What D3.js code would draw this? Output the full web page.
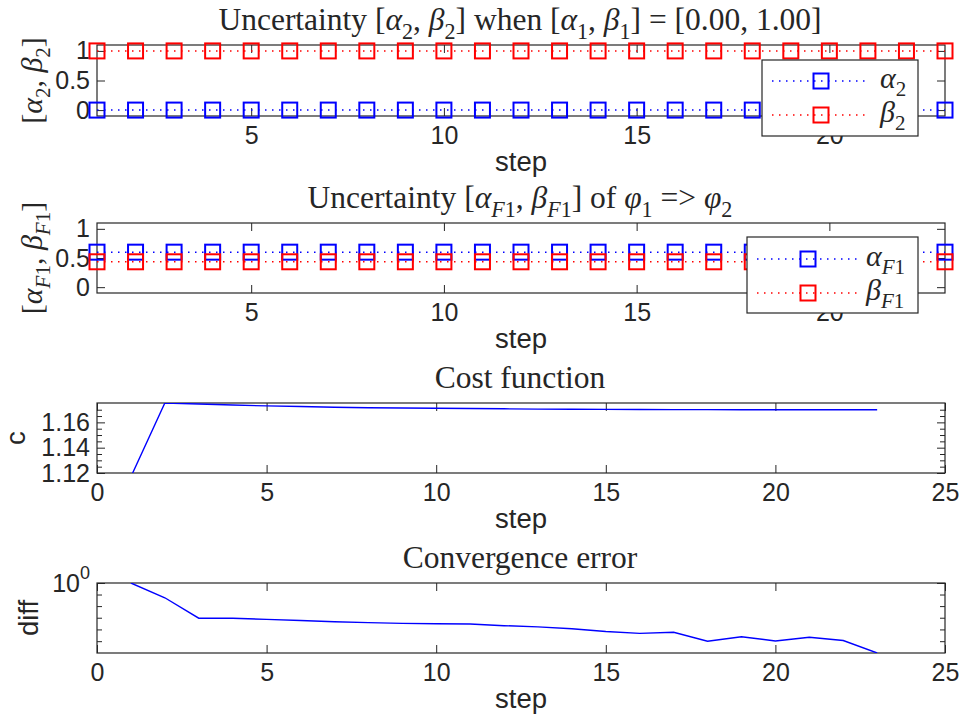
<!DOCTYPE html>
<html>
<head>
<meta charset="utf-8">
<script src="https://cdn.jsdelivr.net/npm/d3@7"></script>
<style>
  body { margin: 0; background: #fff; }
  text { fill: #262626; }
</style>
</head>
<body>
<svg width="963" height="723"></svg>
<script>
// ---- data ----
const steps = [1, 2, 3, 4, 5, 6, 7, 8, 9, 10, 11, 12, 13, 14, 15, 16, 17, 18, 19, 20, 21, 22, 23];
const alpha2 = [0, 0, 0, 0, 0, 0, 0, 0, 0, 0, 0, 0, 0, 0, 0, 0, 0, 0, 0, 0, 0, 0, 0];
const beta2 = [1, 1, 1, 1, 1, 1, 1, 1, 1, 1, 1, 1, 1, 1, 1, 1, 1, 1, 1, 1, 1, 1, 1];
const alphaF1 = [0.6, 0.6, 0.6, 0.6, 0.6, 0.6, 0.6, 0.6, 0.6, 0.6, 0.6, 0.6, 0.6, 0.6, 0.6, 0.6, 0.6, 0.6, 0.6, 0.6, 0.6, 0.6, 0.6];
const betaF1 = [0.435, 0.435, 0.435, 0.435, 0.435, 0.435, 0.435, 0.435, 0.435, 0.435, 0.435, 0.435, 0.435, 0.435, 0.435, 0.435, 0.435, 0.435, 0.435, 0.435, 0.435, 0.435, 0.435];
const cost = [1.117, 1.1753, 1.1745, 1.1737, 1.173, 1.1725, 1.172, 1.1716, 1.1713, 1.1711, 1.1709, 1.1707, 1.1705, 1.1704, 1.1703, 1.1702, 1.1701, 1.1701, 1.17, 1.17, 1.17, 1.17, 1.17];
const diffErr = [1.0, 0.9936, 0.9848, 0.9848, 0.9843, 0.9838, 0.9833, 0.9829, 0.9826, 0.9824, 0.9823, 0.9816, 0.9811, 0.9803, 0.9791, 0.9783, 0.9788, 0.975, 0.9769, 0.9751, 0.9767, 0.9753, 0.97];

const ticksUnc = [0, 0.5, 1];
const ticksStepShort = [5, 10, 15, 20];
const ticksStepFull = [0, 5, 10, 15, 20, 25];
const ticksCost = [1.12, 1.14, 1.16];
const minorCost = [1.125, 1.13, 1.135, 1.145, 1.15, 1.155, 1.165, 1.17];
const ticksDiff = [1];
const minorDiff = [0.975, 0.98, 0.985, 0.99, 0.995];

const svg = d3.select("svg");
const dark = "#262626";
const sans = "'Liberation Sans', Arial, Helvetica, sans-serif";
const serif = "'Liberation Serif', 'Times New Roman', serif";
const left = 97, right = 945;

// text with italic parts and subscripts (poor man's LaTeX)
function rich(textSel, parts, fs) {
  let shifted = false;
  parts.forEach(p => {
    const ts = textSel.append("tspan").text(p.t);
    if (p.it) ts.attr("font-style", "italic");
    if (p.sub) {
      ts.attr("font-size", fs * 0.7);
      if (!shifted) { ts.attr("dy", fs * 0.28); shifted = true; }
    } else if (shifted) {
      ts.attr("dy", -fs * 0.28); shifted = false;
    }
  });
  return textSel;
}

function panel(cfg) {
  const g = svg.append("g");
  const x = cfg.x, y = cfg.y;
  const bottom = y.range()[0], top = y.range()[1];

  // ticks + labels
  g.append("g").attr("transform", `translate(0,${bottom})`)
    .call(d3.axisBottom(x).tickValues(cfg.xticks).tickSize(-8).tickPadding(10).tickFormat(d3.format("d")))
    .call(a => a.select(".domain").remove())
    .call(a => a.selectAll("text").attr("font-size", 25).attr("font-family", sans).attr("fill", dark))
    .call(a => a.selectAll("line").attr("stroke", dark));
  g.append("g").attr("transform", `translate(0,${top})`)
    .call(d3.axisTop(x).tickValues(cfg.xticks).tickSize(-8).tickFormat(""))
    .call(a => a.select(".domain").remove())
    .call(a => a.selectAll("line").attr("stroke", dark));
  const yl = g.append("g").attr("transform", `translate(${left},0)`)
    .call(d3.axisLeft(y).tickValues(cfg.yticks).tickSize(-8).tickPadding(7).tickFormat(cfg.yfmt || (d => d)))
    .call(a => a.select(".domain").remove())
    .call(a => a.selectAll("text").attr("font-size", 25).attr("font-family", sans).attr("fill", dark))
    .call(a => a.selectAll("line").attr("stroke", dark));
  g.append("g").attr("transform", `translate(${right},0)`)
    .call(d3.axisRight(y).tickValues(cfg.yticks).tickSize(-8).tickFormat(""))
    .call(a => a.select(".domain").remove())
    .call(a => a.selectAll("line").attr("stroke", dark));
  if (cfg.yminor) {
    g.append("g").attr("transform", `translate(${left},0)`)
      .call(d3.axisLeft(y).tickValues(cfg.yminor).tickSize(-5).tickFormat(""))
      .call(a => a.select(".domain").remove())
      .call(a => a.selectAll("line").attr("stroke", dark));
    g.append("g").attr("transform", `translate(${right},0)`)
      .call(d3.axisRight(y).tickValues(cfg.yminor).tickSize(-5).tickFormat(""))
      .call(a => a.select(".domain").remove())
      .call(a => a.selectAll("line").attr("stroke", dark));
  }
  if (cfg.after) cfg.after(yl);

  g.append("rect").attr("x", left).attr("y", top)
    .attr("width", right - left).attr("height", bottom - top)
    .attr("fill", "none").attr("stroke", dark).attr("stroke-width", 1.2);

  // title
  rich(g.append("text").attr("x", (left + right) / 2 - 1).attr("y", top - 15)
    .attr("text-anchor", "middle").attr("font-family", serif).attr("font-size", 31.5)
    .attr("fill", "#000"), cfg.title, 31.5);

  // x label
  g.append("text").attr("x", (left + right) / 2).attr("y", bottom + 55)
    .attr("text-anchor", "middle").attr("font-family", sans).attr("font-size", 27.5)
    .text("step");

  // y label
  const yt = g.append("text")
    .attr("transform", `translate(${cfg.ylabX},${(top + bottom) / 2}) rotate(-90)`)
    .attr("text-anchor", "middle").attr("font-size", cfg.ylabSans ? 27.5 : 30)
    .attr("font-family", cfg.ylabSans ? sans : serif);
  if (cfg.ylabSans) yt.text(cfg.ylab); else rich(yt, cfg.ylab, 30);
  return g;
}

function squares(g, x, y, vals, color) {
  const line = d3.line().x((d, i) => x(steps[i])).y(d => y(d));
  g.append("path").datum(vals).attr("d", line).attr("fill", "none")
    .attr("stroke", color).attr("stroke-width", 1.5).attr("stroke-dasharray", "1.5,5.5");
  g.selectAll(null).data(vals).join("rect")
    .attr("x", (d, i) => x(steps[i]) - 7.5).attr("y", d => y(d) - 7.5)
    .attr("width", 15).attr("height", 15)
    .attr("fill", "none").attr("stroke", color).attr("stroke-width", 2);
}

function legend(g, box, entries) {
  g.append("rect").attr("x", box.x).attr("y", box.y).attr("width", box.w).attr("height", box.h)
    .attr("fill", "#fff").attr("stroke", dark).attr("stroke-width", 1.2);
  entries.forEach((e, i) => {
    const cy = box.y + box.rows[i];
    g.append("line").attr("x1", box.x + 10).attr("x2", box.lineEnd).attr("y1", cy).attr("y2", cy)
      .attr("stroke", e.color).attr("stroke-width", 1.5).attr("stroke-dasharray", "1.5,5.5");
    g.append("rect").attr("x", box.mark - 7.5).attr("y", cy - 7.5).attr("width", 15).attr("height", 15)
      .attr("fill", "none").attr("stroke", e.color).attr("stroke-width", 2);
    rich(g.append("text").attr("x", box.textX).attr("y", cy + 7)
      .attr("font-family", serif).attr("font-size", 30).attr("fill", "#000"), e.label, 30);
  });
}

// ---- panel 1 ----
const xA = d3.scaleLinear().domain([1, 23]).range([left, right]);
const y1 = d3.scaleLinear().domain([-0.1, 1.1]).range([116, 45]);
const p1 = panel({
  x: xA, y: y1, xticks: ticksStepShort, yticks: ticksUnc, ylabX: 42,
  title: [{t: "Uncertainty ["}, {t: "α", it: 1}, {t: "2", sub: 1}, {t: ", "}, {t: "β", it: 1}, {t: "2", sub: 1},
          {t: "] when ["}, {t: "α", it: 1}, {t: "1", sub: 1}, {t: ", "}, {t: "β", it: 1}, {t: "1", sub: 1},
          {t: "] = [0.00, 1.00]"}],
  ylab: [{t: "["}, {t: "α", it: 1}, {t: "2", sub: 1}, {t: ", "}, {t: "β", it: 1}, {t: "2", sub: 1}, {t: "]"}]
});
squares(p1, xA, y1, alpha2, "#0000ff");
squares(p1, xA, y1, beta2, "#ff0000");
legend(p1, {x: 762, y: 60, w: 156, h: 76, rows: [21, 55], lineEnd: 870, mark: 821, textX: 880}, [
  {color: "#0000ff", label: [{t: "α", it: 1}, {t: "2", sub: 1}]},
  {color: "#ff0000", label: [{t: "β", it: 1}, {t: "2", sub: 1}]}
]);

// ---- panel 2 ----
const y2 = d3.scaleLinear().domain([-0.1, 1.1]).range([293, 223]);
const p2 = panel({
  x: xA, y: y2, xticks: ticksStepShort, yticks: ticksUnc, ylabX: 42,
  title: [{t: "Uncertainty ["}, {t: "α", it: 1}, {t: "F", sub: 1, it: 1}, {t: "1", sub: 1}, {t: ", "},
          {t: "β", it: 1}, {t: "F", sub: 1, it: 1}, {t: "1", sub: 1}, {t: "] of "},
          {t: "φ", it: 1}, {t: "1", sub: 1}, {t: " => "}, {t: "φ", it: 1}, {t: "2", sub: 1}],
  ylab: [{t: "["}, {t: "α", it: 1}, {t: "F", sub: 1, it: 1}, {t: "1", sub: 1}, {t: ", "},
         {t: "β", it: 1}, {t: "F", sub: 1, it: 1}, {t: "1", sub: 1}, {t: "]"}]
});
squares(p2, xA, y2, alphaF1, "#0000ff");
squares(p2, xA, y2, betaF1, "#ff0000");
legend(p2, {x: 747, y: 237, w: 171, h: 76, rows: [22, 56], lineEnd: 857, mark: 808, textX: 866}, [
  {color: "#0000ff", label: [{t: "α", it: 1}, {t: "F", sub: 1, it: 1}, {t: "1", sub: 1}]},
  {color: "#ff0000", label: [{t: "β", it: 1}, {t: "F", sub: 1, it: 1}, {t: "1", sub: 1}]}
]);

// ---- panel 3 ----
const xB = d3.scaleLinear().domain([0, 25]).range([left, right]);
const y3 = d3.scaleLinear().domain([1.12, 1.1753]).range([473, 403]);
const p3 = panel({
  x: xB, y: y3, xticks: ticksStepFull, yticks: ticksCost, yminor: minorCost,
  yfmt: d3.format(".2f"), ylabX: 25, ylabSans: true, ylab: "c",
  title: [{t: "Cost function"}]
});
svg.append("clipPath").attr("id", "clip3").append("rect")
  .attr("x", left).attr("y", 403).attr("width", right - left).attr("height", 70);
p3.append("path").datum(cost).attr("clip-path", "url(#clip3)")
  .attr("d", d3.line().x((d, i) => xB(steps[i])).y(d => y3(d)))
  .attr("fill", "none").attr("stroke", "#0000ff").attr("stroke-width", 1.4);

// ---- panel 4 ----
const y4 = d3.scaleLog().domain([0.97, 1]).range([653, 583]);
const p4 = panel({
  x: xB, y: y4, xticks: ticksStepFull, yticks: ticksDiff, yminor: minorDiff,
  ylabX: 38, ylabSans: true, ylab: "diff",
  title: [{t: "Convergence error"}],
  after: a => a.selectAll("text").text(null).attr("dy", "0.35em")
    .call(t => t.append("tspan").text("10"))
    .call(t => t.append("tspan").text("0").attr("font-size", 18).attr("dy", "-0.75em"))
});
svg.append("clipPath").attr("id", "clip4").append("rect")
  .attr("x", left).attr("y", 583).attr("width", right - left).attr("height", 70);
p4.append("path").datum(diffErr).attr("clip-path", "url(#clip4)")
  .attr("d", d3.line().x((d, i) => xB(steps[i])).y(d => y4(d)))
  .attr("fill", "none").attr("stroke", "#0000ff").attr("stroke-width", 1.4);
</script>
</body>
</html>
